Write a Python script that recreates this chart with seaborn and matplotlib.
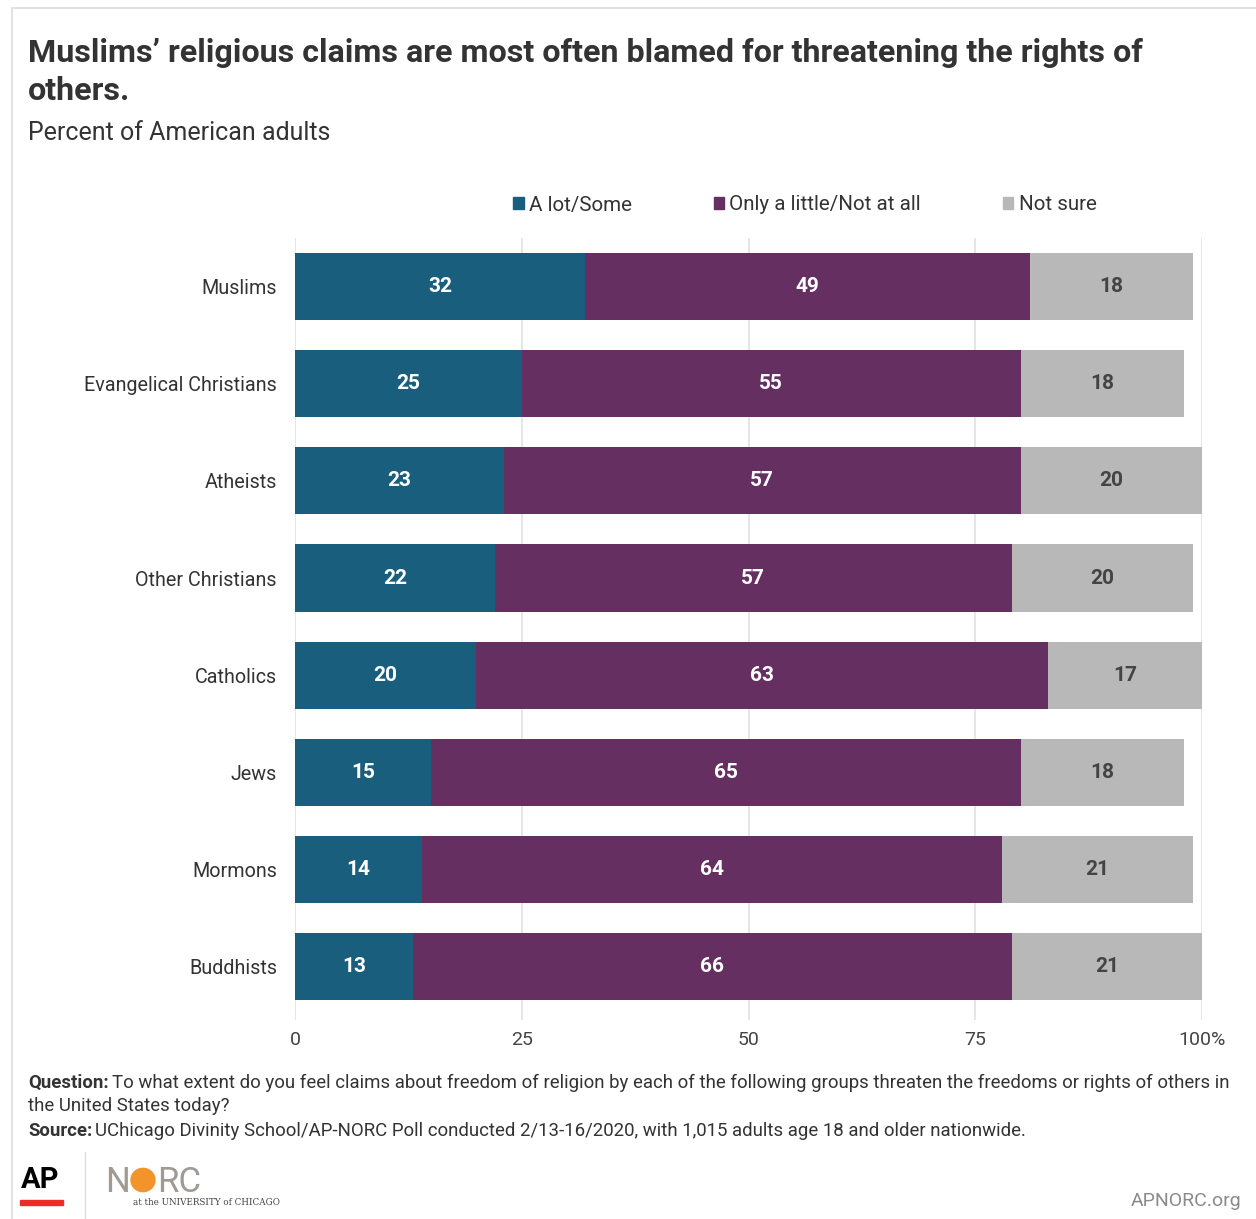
import matplotlib
matplotlib.use("Agg")
import matplotlib.pyplot as plt
import matplotlib.patches as mpatches
import pandas as pd
import seaborn as sns

# datos
grupos = ["Muslims", "Evangelical Christians", "Atheists", "Other Christians",
          "Catholics", "Jews", "Mormons", "Buddhists"]
mucho = [32, 25, 23, 22, 20, 15, 14, 13]
poco = [49, 55, 57, 57, 63, 65, 64, 66]
no_sabe = [18, 18, 20, 20, 17, 18, 21, 21]
series = ["A lot/Some", "Only a little/Not at all", "Not sure"]
ticks = [0, 25, 50, 75, 100]
tick_labels = ["0", "25", "50", "75", "100%"]

AZUL = "#1a5e7e"
MORADO = "#652f61"
GRIS = "#b8b8b8"

W, H = 1256, 1219
sns.set_theme(style="white")
plt.rcParams["font.family"] = ["Roboto", "DejaVu Sans"]

df = pd.DataFrame({"grupo": grupos, "mucho": mucho, "poco": poco, "no_sabe": no_sabe})
df["c1"] = df["mucho"]
df["c2"] = df["mucho"] + df["poco"]
df["c3"] = df["c2"] + df["no_sabe"]

fig = plt.figure(figsize=(W / 100, H / 100), dpi=100)
fig.patch.set_facecolor("white")


def fx(px):
    return px / W


def fy(py):
    return 1 - py / H


ax = fig.add_axes([fx(295), fy(1020), fx(1202) - fx(295), fy(238) - fy(1020)])

# barras apiladas: se dibuja el total y encima los acumulados
for col, color in [("c3", GRIS), ("c2", MORADO), ("c1", AZUL)]:
    sns.barplot(data=df, x=col, y="grupo", color=color, orient="h",
                width=0.69, ax=ax, zorder=3, linewidth=0, saturation=1)

ax.set_xlim(0, 100)
ax.set_ylim(7.55, -0.5)
ax.set_xticks(ticks)
ax.set_xticklabels(tick_labels)
ax.set_xlabel("")
ax.set_ylabel("")
ax.tick_params(axis="x", length=0, pad=8, labelsize=14, labelcolor="#444444")
ax.tick_params(axis="y", length=0, pad=13, labelsize=14.2, labelcolor="#333333")
for s in ax.spines.values():
    s.set_visible(False)
ax.grid(axis="x", color="#e2e2e2", linewidth=1.2, zorder=0)
ax.grid(axis="y", visible=False)

# etiquetas de valores
for i, r in df.iterrows():
    ax.text(r["mucho"] / 2, i, str(r["mucho"]), ha="center", va="center",
            color="white", fontsize=15, fontweight="bold", zorder=5)
    ax.text(r["c1"] + r["poco"] / 2, i, str(r["poco"]), ha="center", va="center",
            color="white", fontsize=15, fontweight="bold", zorder=5)
    ax.text(r["c2"] + r["no_sabe"] / 2, i, str(r["no_sabe"]), ha="center", va="center",
            color="#444444", fontsize=15, fontweight="bold", zorder=5)

# leyenda
handles = [mpatches.Patch(color=c, label=l) for c, l in zip([AZUL, MORADO, GRIS], series)]
fig.legend(handles=handles, ncol=3, loc="center left", bbox_to_anchor=(fx(505), fy(205)),
           frameon=False, fontsize=14.8, handlelength=0.5, handleheight=0.5,
           handletextpad=0.25, columnspacing=4.0, labelcolor="#333333", borderaxespad=0)

# título y subtítulo
fig.text(fx(28), fy(62), "Muslims\u2019 religious claims are most often blamed for threatening the rights of",
         fontsize=23.2, fontweight="bold", color="#333333", va="baseline")
fig.text(fx(28), fy(100), "others.", fontsize=23.2, fontweight="bold", color="#333333", va="baseline")
fig.text(fx(28), fy(140), "Percent of American adults", fontsize=18, color="#333333", va="baseline")

# notas al pie: parte en negrita y el resto a continuación
renderer = fig.canvas.get_renderer()


def nota(y, negrita, resto, size=13.45):
    t = fig.text(fx(28), fy(y), negrita, fontsize=size, fontweight="bold",
                 color="#333333", va="baseline")
    ancho = t.get_window_extent(renderer).width
    fig.text(fx(28 + ancho + 3), fy(y), resto, fontsize=size, color="#333333", va="baseline")


nota(1088, "Question:", "To what extent do you feel claims about freedom of religion by each of the following groups threaten the freedoms or rights of others in")
fig.text(fx(28), fy(1111), "the United States today?", fontsize=13.45, color="#333333", va="baseline")
nota(1136, "Source:", "UChicago Divinity School/AP-NORC Poll conducted 2/13-16/2020, with 1,015 adults age 18 and older nationwide.")

# logos
fig.text(fx(21), fy(1188), "AP", fontsize=21, fontweight="bold", color="black", va="baseline")
fig.patches.append(mpatches.Rectangle((fx(20), fy(1205)), fx(43), 5 / H, color="#ee2b2b",
                                      transform=fig.transFigure))
fig.add_artist(plt.Line2D([fx(85), fx(85)], [fy(1152), fy(1219)], color="#dddddd", lw=1))
fig.text(fx(105), fy(1192), "N", fontsize=25, color="#a09a93", va="baseline")
fig.add_artist(mpatches.Circle((fx(143), fy(1180)), 12 / W, color="#f2932b",
                               transform=fig.transFigure))
fig.text(fx(157), fy(1192), "RC", fontsize=25, color="#a09a93", va="baseline")
fig.text(fx(133), fy(1205), "at the UNIVERSITY of CHICAGO", fontsize=6.3, color="#444444",
         family="DejaVu Serif", va="baseline")
fig.text(fx(1242), fy(1206), "APNORC.org", fontsize=14, color="#8a8a8a", ha="right", va="baseline")

# marco
fig.add_artist(plt.Line2D([fx(12), fx(1256)], [fy(8), fy(8)], color="#dddddd", lw=1.2))
fig.add_artist(plt.Line2D([fx(12), fx(12)], [fy(8), fy(1219)], color="#dddddd", lw=1.2))

fig.savefig("out.png", dpi=100, facecolor="white")
